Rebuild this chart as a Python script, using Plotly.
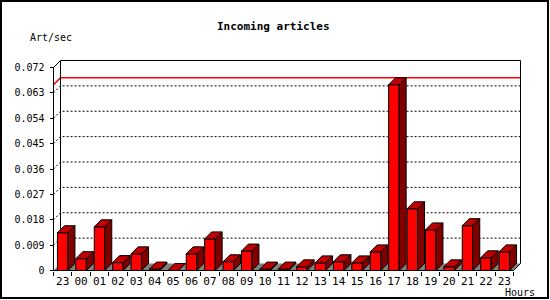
import plotly.graph_objects as go

# ---------------- data ----------------
hours = ["23", "00", "01", "02", "03", "04", "05", "06", "07", "08", "09", "10",
         "11", "12", "13", "14", "15", "16", "17", "18", "19", "20", "21", "22", "23"]
rates = [0.0134, 0.0042, 0.0155, 0.0028, 0.0059, 0.0005, 0.0000, 0.0059, 0.0112,
         0.0031, 0.0069, 0.0005, 0.0005, 0.0013, 0.0027, 0.0031, 0.0027, 0.0066,
         0.0659, 0.0219, 0.0144, 0.0013, 0.0159, 0.0045, 0.0066]
y_tick_vals = [0, 0.009, 0.018, 0.027, 0.036, 0.045, 0.054, 0.063, 0.072]
y_tick_text = ["0", "0.009", "0.018", "0.027", "0.036", "0.045", "0.054", "0.063", "0.072"]
title_text = "Incoming articles"
y_title = "Art/sec"
x_title = "Hours"

# ---------------- geometry (pixels) ----------------
W, H = 550, 300
L, R, T, B = 50, 26, 57, 26
PW, PH = W - L - R, H - T - B
X0PX = 53.5          # front axis
Y0PX = 270.5         # front floor line
STEP = 18.4          # px per bar
YMAX = 0.072
YPX = 203.0          # px for YMAX
DXPX, DYPX = 7.0, 7.0
BWPX = 10.5

n = len(rates)


def x_at(px):
    return (px - X0PX) / STEP - 0.5


def v_at(py):
    return (Y0PX - py) * YMAX / YPX


DX = DXPX / STEP
DY = DYPX * YMAX / YPX
HW = BWPX / STEP / 2
XL, XR = -0.5, n - 0.5

font_mono = "DejaVu Sans Mono"
fig = go.Figure()


def poly(xs, ys, fill, line_color="black", width=1):
    fig.add_trace(go.Scatter(
        x=xs + [xs[0]], y=ys + [ys[0]], mode="lines", fill="toself",
        fillcolor=fill, line=dict(color=line_color, width=width),
        hoverinfo="skip", showlegend=False))


def seg(xs, ys, color="black", dash="solid", width=1):
    fig.add_trace(go.Scatter(
        x=xs, y=ys, mode="lines", line=dict(color=color, width=width, dash=dash),
        hoverinfo="skip", showlegend=False))


# floor
fig.add_trace(go.Scatter(
    x=[XL, XR, XR + DX, XL + DX, XL], y=[0, 0, DY, DY, 0], mode="lines",
    fill="toself", fillcolor="#808080", line=dict(width=0),
    hoverinfo="skip", showlegend=False))

# dotted grid lines on back wall + left wall
for v in y_tick_vals[1:-1]:
    seg([XL, XL + DX, XR + DX], [v, v + DY, v + DY], dash="2px,2px")

# max line (red)
vmax = max(rates)
seg([XL, XL + DX, XR + DX], [vmax, vmax + DY, vmax + DY], color="#ff0000", width=1.6)

# back wall frame
seg([XL + DX, XL + DX, XR + DX, XR + DX], [DY, YMAX + DY, YMAX + DY, DY])
# front axis + top diagonal
seg([XL, XL, XL + DX], [0, YMAX, YMAX + DY])
# floor front edge and right diagonal
seg([XL, XR, XR + DX], [0, 0, DY])

# bars
for i, v in enumerate(rates):
    a, b = i - HW, i + HW
    if v > 0:
        poly([a, b, b, a], [0, 0, v, v], "#ff0000")
    poly([b, b + DX, b + DX, b], [0, DY, v + DY, v], "#800000")
    poly([a, b, b + DX, a + DX], [v, v, v + DY, v + DY], "#c00000")

fig.update_layout(
    width=W, height=H,
    margin=dict(l=L, r=R, t=T, b=B, pad=0, autoexpand=False),
    paper_bgcolor="white", plot_bgcolor="white",
    showlegend=False,
    font=dict(family=font_mono, size=10, color="black"),
    xaxis=dict(
        range=[x_at(L), x_at(W - R)], anchor="free",
        position=(H - B - Y0PX) / PH, automargin=False,
        tickvals=list(range(n)), ticktext=hours, ticks="",
        ticklabelstandoff=2,
        showgrid=False, zeroline=False, showline=False,
        tickfont=dict(family=font_mono, size=11, color="black"),
        minor=dict(tickvals=[i - 0.5 for i in range(n + 1)], ticks="outside",
                   ticklen=4, tickcolor="black", tickwidth=1, showgrid=False),
    ),
    yaxis=dict(
        range=[v_at(H - B), v_at(T)], anchor="free",
        position=(X0PX - L) / PW, automargin=False,
        tickvals=y_tick_vals, ticktext=y_tick_text, ticks="outside",
        ticklen=4, tickcolor="black", tickwidth=1,
        ticklabelstandoff=3,
        showgrid=False, zeroline=False, showline=False,
        tickfont=dict(family=font_mono, size=10, color="black"),
    ),
    annotations=[
        dict(text="<b>" + title_text + "</b>", xref="paper", yref="paper",
             x=(273 - L) / PW, y=(H - B - 27) / PH, xanchor="center", yanchor="middle",
             showarrow=False, font=dict(family=font_mono, size=11, color="black")),
        dict(text=y_title, xref="paper", yref="paper",
             x=(28 - L) / PW, y=(H - B - 37.5) / PH, xanchor="left", yanchor="middle",
             showarrow=False, font=dict(family=font_mono, size=10, color="black")),
        dict(text=x_title, xref="paper", yref="paper",
             x=(503 - L) / PW, y=(H - B - 292) / PH, xanchor="left", yanchor="middle",
             showarrow=False, font=dict(family=font_mono, size=10, color="black")),
    ],
    shapes=[
        dict(type="rect", xref="paper", yref="paper",
             x0=(1 - L) / PW, x1=(548 - L) / PW,
             y0=(H - B - 1) / PH, y1=(H - B - 298) / PH,
             line=dict(color="black", width=2)),
    ],
)

fig.write_html("out.html", config={"displayModeBar": False})
